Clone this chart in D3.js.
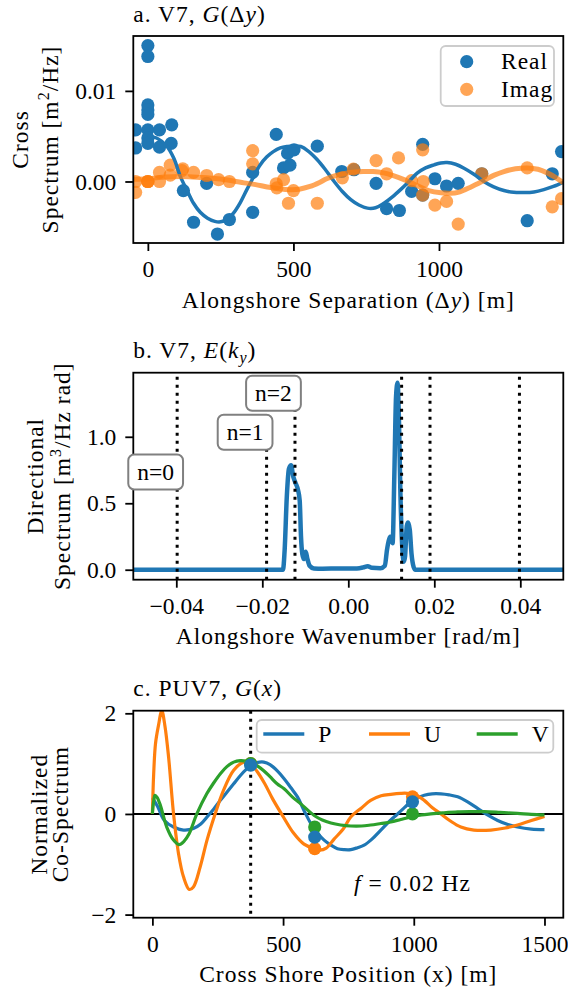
<!DOCTYPE html>
<html>
<head>
<meta charset="utf-8">
<script src="https://cdn.jsdelivr.net/npm/d3@7"></script>
<style>
  body { margin: 0; background: #fff; }
  svg text { font-family: "Liberation Serif", "DejaVu Serif", serif; font-size: 23.5px; fill: #000; }
  svg text.lbl { letter-spacing: 1px; }
</style>
</head>
<body>
<svg id="fig" width="568" height="992"></svg>
<script>
// ---- panel a: cross spectrum vs alongshore separation ----
const realX = [-42, -42, 0, 0, 0, 0, 0, 0, 0, 0, 40, 40, 82, 80, 122, 157, 202, 239, 280, 360, 360, 441, 466, 480, 488, 502, 582, 666, 708, 784, 820, 864, 906, 944, 944, 986, 1026, 1066, 1147, 1303, 1389, 1421]
const realY = [0.0057, 0.0037, 0.0150, 0.0138, 0.00845, 0.0079, 0.0074, 0.0057, 0.0048, 0.0042, 0.0057, 0.0038, 0.00625, 0.0042, -0.0010, -0.0045, -0.0002, -0.0058, -0.0042, 0.0010, -0.0034, 0.0052, 0.0015, 0.0031, 0.0018, 0.0035, 0.0039, 0.0011, 0.0013, -0.0002, -0.0030, -0.0032, -0.0011, 0.0041, -0.0015, 0.0003, -0.0005, -0.0002, 0.00085, -0.00433, 0.00085, 0.0033]
const imagX = [-42, -42, 0, 0, 0, 40, 40, 77, 77, 117, 120, 157, 202, 243, 280, 360, 360, 441, 443, 466, 483, 500, 582, 668, 706, 784, 820, 861, 906, 944, 944, 946, 986, 1026, 1066, 1147, 1303, 1389, 1421]
const imagY = [0.0, -0.0012, 0.0, 0.0, 0.0, 0.0010, 0.0, 0.0018, 0.0007, 0.0012, 0.0014, 0.0010, 0.00066, 0.0002, 0.0, 0.0034, 0.00195, -0.00025, -0.0007, 0.0002, -0.0024, -0.0010, -0.0024, 0.0004, 0.00137, 0.0023, 0.00085, 0.0026, 0.0001, 0.0035, -0.0015, 0.0, -0.0026, -0.0022, -0.0047, 0.00085, 0.0015, -0.0028, -0.0019]
const realFitX = [0, 30, 65, 90, 111, 135, 157, 180, 205, 230, 250, 272, 294, 318, 340, 363, 385, 408, 431, 455, 479, 502, 525, 553, 582, 610, 640, 668, 697, 725, 754, 782, 811, 840, 868, 897, 925, 954, 983, 1006, 1028, 1057, 1086, 1120, 1154, 1188, 1223, 1257, 1292, 1326, 1360, 1393, 1427]
const realFitY = [0.0050, 0.0048, 0.0039, 0.0025, 0.0006, -0.0010, -0.0024, -0.0034, -0.00405, -0.0044, -0.00445, -0.0042, -0.0035, -0.0023, -0.0009, 0.0005, 0.0018, 0.0027, 0.0033, 0.0037, 0.00386, 0.00392, 0.00386, 0.0033, 0.0024, 0.0013, 0.0, -0.0011, -0.0020, -0.0026, -0.00294, -0.0029, -0.0024, -0.0017, -0.0009, 0.0, 0.00092, 0.0015, 0.00184, 0.00205, 0.0021, 0.0019, 0.00147, 0.0008, 0.0, -0.0006, -0.0010, -0.0012, -0.00122, -0.00115, -0.0009, -0.00055, -0.0001]
const imagFitX = [-50, 0, 60, 120, 180, 240, 294, 330, 370, 410, 450, 490, 520, 557, 590, 614, 650, 694, 740, 774, 810, 843, 880, 925, 965, 1007, 1040, 1065, 1110, 1154, 1190, 1223, 1263, 1303, 1340, 1372, 1400, 1427]
const imagFitY = [0.00025, 0.0003, 0.0005, 0.00055, 0.00045, 0.0003, 0.00005, -0.00015, -0.00035, -0.0006, -0.0008, -0.0009, -0.00085, -0.00055, -0.0001, 0.0003, 0.0007, 0.0010, 0.0011, 0.0011, 0.00095, 0.00065, 0.0002, -0.00045, -0.0010, -0.00125, -0.0013, -0.0012, -0.0006, 0.0001, 0.0007, 0.0011, 0.0014, 0.0015, 0.00135, 0.00095, 0.00045, -0.00015]

// ---- panel b: directional spectrum ----
const specK = [-0.05, -0.0152, -0.0148, -0.0143, -0.0138, -0.0133, -0.0128, -0.0123, -0.0117, -0.0113, -0.0110, -0.0107, -0.0103, -0.0099, -0.0095, -0.0090, -0.0080, -0.006, -0.002, 0.002, 0.0035, 0.0045, 0.0055, 0.0075, 0.0085, 0.0090, 0.0095, 0.0099, 0.0103, 0.0107, 0.0111, 0.01145, 0.0118, 0.0121, 0.0125, 0.0129, 0.0132, 0.0136, 0.0139, 0.0143, 0.0147, 0.0152, 0.0156, 0.05]
const specE = [0, 0, 0.15, 0.55, 0.76, 0.785, 0.70, 0.655, 0.60, 0.52, 0.25, 0.12, 0.08, 0.135, 0.08, 0.03, 0.01, 0.008, 0.01, 0.01, 0.018, 0.027, 0.015, 0.012, 0.03, 0.15, 0.23, 0.25, 0.20, 0.70, 1.30, 1.407, 1.10, 0.60, 0.20, 0.06, 0.10, 0.33, 0.355, 0.30, 0.12, 0.02, 0, 0]
const modeK = [-0.0398, -0.019, -0.0124, 0.0124, 0.019, 0.0398]
const modeTop = [1.482, 1.034, 1.327, 1.482, 1.482, 1.482]
const modeLabels = ['n=0', 'n=1', 'n=2']
const modeLabelK = [-0.0448, -0.024, -0.0174]
const modeLabelE = [0.735, 1.034, 1.327]

// ---- panel c: normalized co-spectrum ----
const pX = [0, 20, 46, 81, 119, 157, 185, 209, 235, 260, 285, 311, 336, 362, 387, 410, 426, 450, 477, 504, 530, 555, 580, 606, 631, 657, 683, 708, 734, 759, 785, 810, 840, 874, 906, 938, 965, 989, 1015, 1040, 1070, 1104, 1135, 1168, 1206, 1244, 1282, 1321, 1360, 1397, 1450, 1500]
const pY = [0.32, 0.15, -0.13, -0.26, -0.32, -0.29, -0.2, -0.06, 0.1, 0.27, 0.43, 0.6, 0.76, 0.9, 1.0, 1.03, 1.03, 0.98, 0.86, 0.7, 0.52, 0.34, 0.07, -0.19, -0.38, -0.52, -0.62, -0.69, -0.71, -0.71, -0.67, -0.62, -0.5, -0.32, -0.15, 0.0, 0.13, 0.24, 0.32, 0.37, 0.4, 0.4, 0.38, 0.34, 0.24, 0.11, -0.02, -0.13, -0.21, -0.26, -0.3, -0.31]
const uX = [0, 5, 12, 23, 36, 48, 62, 81, 100, 119, 141, 157, 183, 209, 240, 272, 311, 349, 370, 400, 430, 460, 500, 540, 580, 619, 640, 665, 695, 730, 759, 800, 835, 875, 912, 950, 976, 1010, 1040, 1070, 1104, 1140, 1180, 1230, 1295, 1350, 1397, 1450, 1500]
const uY = [0.0, 0.8, 1.4, 1.75, 2.05, 1.75, 1.13, 0.0, -0.79, -1.25, -1.5, -1.45, -1.05, -0.52, 0.0, 0.47, 0.87, 1.03, 1.02, 0.85, 0.6, 0.3, -0.05, -0.38, -0.6, -0.69, -0.72, -0.68, -0.5, -0.3, -0.06, 0.12, 0.27, 0.36, 0.39, 0.41, 0.41, 0.37, 0.27, 0.13, 0.0, -0.14, -0.26, -0.32, -0.32, -0.28, -0.22, -0.13, -0.05]
const vX = [0, 5, 10, 18, 30, 55, 81, 102, 120, 140, 170, 208, 235, 260, 285, 311, 336, 360, 380, 400, 426, 450, 477, 504, 535, 568, 600, 619, 650, 683, 720, 759, 800, 835, 874, 912, 950, 989, 1030, 1065, 1110, 1168, 1220, 1270, 1330, 1397, 1450, 1500]
const vY = [0, 0.25, 0.37, 0.33, 0.18, -0.26, -0.52, -0.61, -0.55, -0.4, 0.0, 0.4, 0.62, 0.8, 0.94, 1.03, 1.06, 1.05, 1.02, 0.96, 0.86, 0.74, 0.6, 0.5, 0.34, 0.2, 0.05, -0.03, -0.12, -0.18, -0.22, -0.24, -0.24, -0.22, -0.19, -0.16, -0.11, -0.06, -0.02, 0.0, 0.02, 0.04, 0.045, 0.045, 0.03, 0.01, -0.01, -0.02]
const sensorX = [376, 621, 995]
const sensorP = [0.97, -0.46, 0.24]
const sensorU = [1.0, -0.69, 0.34]
const sensorV = [1.0, -0.26, 0.0]
const markX = 376

const svg = d3.select('#fig')
const L = 133.3, R = 563.3, H = 207
const blue = '#1f77b4', orange = '#ff7f0e', green = '#2ca02c'

// makes scales + clipped plot group for one panel
function panel(id, top, xDom, yDom) {
  const g = svg.append('g')
  const x = d3.scaleLinear().domain(xDom).range([L, R])
  const y = d3.scaleLinear().domain(yDom).range([top + H, top])
  svg.append('clipPath').attr('id', 'clip-' + id)
    .append('rect').attr('x', L).attr('y', top).attr('width', R - L).attr('height', H)
  const plot = g.append('g').attr('clip-path', `url(#clip-${id})`)
  return { g, plot, x, y, top }
}

// text made of pieces: [string, kind]
function rich(t, parts) {
  parts.forEach(([s, kind]) => {
    const ts = t.append('tspan').text(s)
    if (kind === 'it') ts.attr('font-style', 'italic')
    if (kind === 'sup') ts.attr('font-size', 16).attr('dy', -9)
    if (kind === 'afterSup') ts.attr('dy', 9)
    if (kind === 'sub') ts.attr('font-style', 'italic').attr('font-size', 16).attr('dy', 5)
    if (kind === 'afterSub') ts.attr('dy', -5)
  })
  return t
}

// ticks, frame, x label
function axes(p, xTicks, yTicks, xFmt, yFmt, xLabel) {
  const xa = p.g.append('g').attr('transform', `translate(0,${p.top + H})`)
    .call(d3.axisBottom(p.x).tickValues(xTicks).tickFormat(xFmt).tickSize(8).tickPadding(9.3))
  const ya = p.g.append('g').attr('transform', `translate(${L},0)`)
    .call(d3.axisLeft(p.y).tickValues(yTicks).tickFormat(yFmt).tickSize(8).tickPadding(9))
  for (const a of [xa, ya]) {
    a.select('.domain').remove()
    a.selectAll('.tick line').attr('stroke', '#000').attr('stroke-width', 1.8)
  }
  p.g.append('rect').attr('x', L).attr('y', p.top).attr('width', R - L).attr('height', H)
    .attr('fill', 'none').attr('stroke', '#000').attr('stroke-width', 1.8)
  rich(p.g.append('text').attr('class', 'lbl').attr('x', (L + R) / 2).attr('y', p.top + H + 64.5)
    .attr('text-anchor', 'middle'), xLabel)
}

// two-line rotated y label
function yLabel(p, xs, lines) {
  lines.forEach((parts, i) => {
    rich(p.g.append('text').attr('class', 'lbl').attr('text-anchor', 'middle')
      .attr('transform', `translate(${xs[i]},${p.top + H / 2}) rotate(-90)`), parts)
  })
}

function title(p, parts) {
  rich(p.g.append('text').attr('class', 'lbl').attr('x', L).attr('y', p.top - 14.5), parts)
}

// ---------- panel a ----------
const pa = panel('a', 36, [-50, 1427], [-0.00679, 0.01606])
pa.plot.selectAll('circle.real').data(d3.zip(realX, realY)).join('circle')
  .attr('class', 'real').attr('cx', d => pa.x(d[0])).attr('cy', d => pa.y(d[1]))
  .attr('r', 6.6).attr('fill', blue)
pa.plot.selectAll('circle.imag').data(d3.zip(imagX, imagY)).join('circle')
  .attr('class', 'imag').attr('cx', d => pa.x(d[0])).attr('cy', d => pa.y(d[1]))
  .attr('r', 6.6).attr('fill', orange).attr('fill-opacity', 0.7)
const lineA = d3.line().x(d => pa.x(d[0])).y(d => pa.y(d[1])).curve(d3.curveCatmullRom)
pa.plot.append('path').datum(d3.zip(realFitX, realFitY)).attr('d', lineA)
  .attr('fill', 'none').attr('stroke', blue).attr('stroke-width', 3.5)
pa.plot.append('path').datum(d3.zip(imagFitX, imagFitY)).attr('d', lineA)
  .attr('fill', 'none').attr('stroke', orange).attr('stroke-width', 5).attr('stroke-opacity', 0.7)
axes(pa, [0, 500, 1000], [0, 0.01], d3.format('d'), d3.format('.2f'),
  [['Alongshore Separation (Δ'], ['y', 'it'], [') [m]']])
yLabel(pa, [28.3, 58.2], [[['Cross']], [['Spectrum [m'], ['2', 'sup'], ['/Hz]', 'afterSup']]])
title(pa, [['a. V7, '], ['G', 'it'], ['(Δ'], ['y', 'it'], [')']])
// legend a
{
  const lg = pa.g.append('g')
  lg.append('rect').attr('x', 440.7).attr('y', 46).attr('width', 113.3).attr('height', 60).attr('rx', 5)
    .attr('fill', '#fff').attr('fill-opacity', 0.8).attr('stroke', '#cccccc').attr('stroke-width', 1.8)
  const items = [['Real', blue, 1], ['Imag', orange, 0.7]]
  items.forEach(([name, col, op], i) => {
    const cy = 61.7 + i * 27.6
    lg.append('circle').attr('cx', 466.7).attr('cy', cy).attr('r', 6.6).attr('fill', col).attr('fill-opacity', op)
    lg.append('text').attr('class', 'lbl').attr('x', 501).attr('y', cy + 7.5).text(name)
  })
}

// ---------- panel b ----------
const pb = panel('b', 372.7, [-0.05, 0.05], [-0.075, 1.482])
pb.plot.append('path').datum(d3.zip(specK, specE))
  .attr('d', d3.line().x(d => pb.x(d[0])).y(d => pb.y(d[1])).curve(d3.curveMonotoneX))
  .attr('fill', 'none').attr('stroke', blue).attr('stroke-width', 4.5).attr('stroke-linejoin', 'round')
pb.plot.selectAll('line.mode').data(d3.zip(modeK, modeTop)).join('line')
  .attr('class', 'mode').attr('x1', d => pb.x(d[0])).attr('x2', d => pb.x(d[0]))
  .attr('y1', pb.y(-0.075)).attr('y2', d => pb.y(d[1]))
  .attr('stroke', '#000').attr('stroke-width', 3).attr('stroke-dasharray', '3,5')
axes(pb, [-0.04, -0.02, 0, 0.02, 0.04], [0, 0.5, 1.0], d3.format('.2f'), d3.format('.1f'),
  [['Alongshore Wavenumber [rad/m]']])
yLabel(pb, [42.7, 70], [[['Directional']], [['Spectrum [m'], ['3', 'sup'], ['/Hz rad]', 'afterSup']]])
title(pb, [['b. V7, '], ['E', 'it'], ['('], ['k', 'it'], ['y', 'sub'], [')', 'afterSub']])
modeLabels.forEach((s, i) => {
  const cx = pb.x(modeLabelK[i]), cy = pb.y(modeLabelE[i])
  const grp = pb.g.append('g')
  const r = grp.append('rect')
  const t = grp.append('text').attr('x', cx).attr('y', cy + 8).attr('text-anchor', 'middle').text(s)
  const bb = t.node().getBBox()
  r.attr('x', cx - bb.width / 2 - 9).attr('y', cy - 17.5).attr('width', bb.width + 18).attr('height', 35)
    .attr('rx', 6).attr('fill', '#fff').attr('stroke', '#808080').attr('stroke-width', 2)
})

// ---------- panel c ----------
const pc = panel('c', 710.7, [-73, 1572], [-2.062, 2.052])
pc.plot.append('line').attr('x1', L).attr('x2', R).attr('y1', pc.y(0)).attr('y2', pc.y(0))
  .attr('stroke', '#000').attr('stroke-width', 2)
pc.plot.append('line').attr('x1', pc.x(markX)).attr('x2', pc.x(markX)).attr('y1', pc.top).attr('y2', pc.top + H)
  .attr('stroke', '#000').attr('stroke-width', 3).attr('stroke-dasharray', '3,5')
const lineC = d3.line().x(d => pc.x(d[0])).y(d => pc.y(d[1])).curve(d3.curveCatmullRom)
const series = [[pX, pY, blue, sensorP], [uX, uY, orange, sensorU], [vX, vY, green, sensorV]]
series.forEach(([xs, ys, col]) => {
  pc.plot.append('path').datum(d3.zip(xs, ys)).attr('d', lineC)
    .attr('fill', 'none').attr('stroke', col).attr('stroke-width', 3.2)
})
;[series[1], series[2], series[0]].forEach(([, , col, vals]) => {
  pc.plot.selectAll(null).data(d3.zip(sensorX, vals)).join('circle')
    .attr('cx', d => pc.x(d[0])).attr('cy', d => pc.y(d[1])).attr('r', 6.6).attr('fill', col)
})
axes(pc, [0, 500, 1000, 1500], [-2, 0, 2], d3.format('d'), d3.format('d'),
  [['Cross Shore Position (x) [m]']])
yLabel(pc, [46.7, 67.5], [[['Normalized']], [['Co-Spectrum']]])
title(pc, [['c. PUV7, '], ['G', 'it'], ['('], ['x', 'it'], [')']])
{
  rich(pc.g.append('text').attr('class', 'lbl').attr('x', pc.x(995)).attr('y', pc.y(-1.54))
    .attr('text-anchor', 'middle'), [['f', 'it'], [' = 0.02 Hz']])
  const lg = pc.g.append('g')
  lg.append('rect').attr('x', 256.7).attr('y', 720).attr('width', 296.6).attr('height', 32.7).attr('rx', 5)
    .attr('fill', '#fff').attr('fill-opacity', 0.8).attr('stroke', '#cccccc').attr('stroke-width', 1.8)
  const items = [['P', blue, 263.3], ['U', orange, 369], ['V', green, 476.7]]
  items.forEach(([name, col, x0]) => {
    lg.append('line').attr('x1', x0).attr('x2', x0 + 41).attr('y1', 734).attr('y2', 734)
      .attr('stroke', col).attr('stroke-width', 3.5)
    lg.append('text').attr('x', x0 + 55).attr('y', 742).text(name)
  })
}
</script>
</body>
</html>
